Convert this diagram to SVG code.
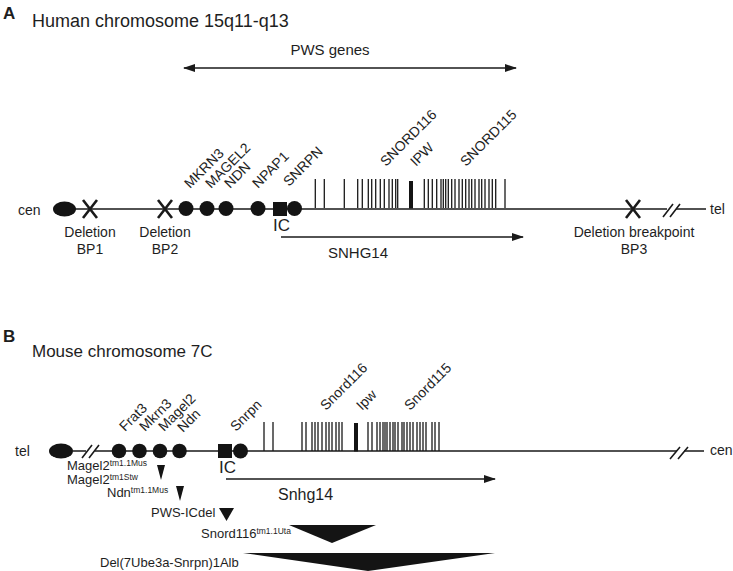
<svg xmlns="http://www.w3.org/2000/svg" width="733" height="571" viewBox="0 0 733 571">
<defs>
<marker id="ah" markerUnits="userSpaceOnUse" markerWidth="12" markerHeight="8" refX="11" refY="4" orient="auto-start-reverse"><path d="M0,0 L12,4 L0,8 z" fill="#1a1a1a"/></marker>
<style>
text{font-family:"Liberation Sans",Arial,sans-serif;fill:#1e1e1e}
.pl{font-size:17px;font-weight:bold}
.g{font-size:14px}
.lb{font-size:14px}
.sm{font-size:13px}
.sup{font-size:8.5px}
.chr{stroke:#1a1a1a;stroke-width:1.6;fill:none}
.tk{stroke:#1a1a1a;stroke-width:1.3;fill:none}
.x{stroke:#1a1a1a;stroke-width:2.6;fill:none}
.ar{stroke:#1a1a1a;stroke-width:1.6;fill:none}
.blk{fill:#141414}
</style>
</defs>

<!-- Panel A -->
<g id="panelA-title">
<text class="pl" x="3" y="19">A</text>
<text x="32" y="27" font-size="18">Human chromosome 15q11-q13</text>
<text x="330" y="55" font-size="15" text-anchor="middle">PWS genes</text>
</g>

<g id="chromA">
<path class="chr" d="M75,209 H667 M676,209 H706"/>
<path class="chr" d="M663,217 L673,204 M670,217 L680,204"/>
<ellipse class="blk" cx="64.5" cy="209" rx="11.5" ry="7.5"/>
<text class="lb" x="18" y="215">cen</text>
<text class="lb" x="710" y="214">tel</text>
</g>

<g id="bp1"><path class="x" d="M83,200 L97,218 M97,200 L83,218"/><text class="lb" x="90" y="237" text-anchor="middle">Deletion</text><text class="lb" x="90" y="254" text-anchor="middle">BP1</text></g>
<g id="bp2"><path class="x" d="M158,200 L172,218 M172,200 L158,218"/><text class="lb" x="165" y="237" text-anchor="middle">Deletion</text><text class="lb" x="165" y="254" text-anchor="middle">BP2</text></g>
<g id="bp3"><path class="x" d="M626,200 L640,218 M640,200 L626,218"/><text class="lb" x="634" y="237" text-anchor="middle">Deletion breakpoint</text><text class="lb" x="634" y="254" text-anchor="middle">BP3</text></g>

<g id="MKRN3"><circle class="blk" cx="186" cy="208.5" r="7.5"/><text class="g" font-size="15" transform="translate(190,189) rotate(-45)">MKRN3</text></g>
<g id="MAGEL2"><circle class="blk" cx="207" cy="208.5" r="7.5"/><text class="g" transform="translate(211,189) rotate(-45)">MAGEL2</text></g>
<g id="NDN"><circle class="blk" cx="226" cy="208.5" r="7.5"/><text class="g" transform="translate(230,189) rotate(-45)">NDN</text></g>
<g id="NPAP1"><circle class="blk" cx="258" cy="208.5" r="7.5"/><text class="g" transform="translate(258,189) rotate(-45)">NPAP1</text></g>
<g id="IC-A"><rect class="blk" x="273" y="202" width="14" height="14"/><text x="273" y="231" font-size="17">IC</text></g>
<g id="SNRPN"><circle class="blk" cx="294.5" cy="208.5" r="7.5"/><text class="g" transform="translate(289,187) rotate(-45)">SNRPN</text></g>

<g id="snordA">
<path class="tk" d="M315.3,179V208 M324.3,179V208 M344.3,179V208 M357.7,179V208 M362.3,179V208 M368.3,179V208 M371.7,179V208 M375.7,179V208 M380.3,179V208 M384.3,179V208 M389,179V208 M392.3,179V208 M395.7,179V208 M397.7,179V208 M424.3,179V208 M428.3,179V208 M432.3,179V208 M436.7,179V208 M441,179V208 M443.3,179V208 M445.7,179V208 M448.3,179V208 M451.7,179V208 M455,179V208 M459,179V208 M462.3,179V208 M465.7,179V208 M469,179V208 M471.7,179V208 M475,179V208 M479,179V208 M481.7,179V208 M485,179V208 M489,179V208 M492.3,179V208 M495.7,179V208 M505,179V208"/>
<rect class="blk" x="409" y="181" width="4" height="27.5"/>
<text class="g" transform="translate(386,167) rotate(-45)">SNORD116</text>
<text class="g" transform="translate(416,167) rotate(-45)">IPW</text>
<text class="g" transform="translate(466,167) rotate(-45)">SNORD115</text>
</g>

<g id="SNHG14-A"><text x="328" y="258" font-size="15">SNHG14</text></g>

<!-- Panel B -->
<g id="panelB-title">
<text class="pl" x="3" y="342">B</text>
<text x="32" y="357" font-size="17">Mouse chromosome 7C</text>
</g>

<g id="chromB">
<path class="chr" d="M73,451 H86 M95,451 H677 M684,451 H704"/>
<path class="chr" d="M82,458 L92,445 M89,458 L99,445 M670,459 L680,447 M678,459 L688,447"/>
<ellipse class="blk" cx="61" cy="451" rx="12" ry="7.5"/>
<text class="lb" x="15" y="456">tel</text>
<text class="lb" x="710" y="455">cen</text>
</g>

<g id="Frat3"><circle class="blk" cx="119" cy="451" r="7.3"/><text class="g" transform="translate(125,432) rotate(-45)">Frat3</text></g>
<g id="Mkrn3"><circle class="blk" cx="139.5" cy="451" r="7.3"/><text class="g" transform="translate(145,432) rotate(-45)">Mkrn3</text></g>
<g id="Magel2"><circle class="blk" cx="160" cy="451" r="7.3"/><text class="g" transform="translate(164,432) rotate(-45)">Magel2</text></g>
<g id="Ndn"><circle class="blk" cx="179.5" cy="451" r="7.3"/><text class="g" transform="translate(183,433) rotate(-45)">Ndn</text></g>
<g id="IC-B"><rect class="blk" x="218" y="444" width="14" height="14"/><text x="219" y="473" font-size="17">IC</text></g>
<g id="Snrpn"><circle class="blk" cx="240.5" cy="451" r="7.5"/><text class="g" transform="translate(236,432) rotate(-45)">Snrpn</text></g>

<g id="snordB">
<path class="tk" d="M264,422V451 M273,422V451 M302,422V451 M306,422V451 M312,422V451 M315,422V451 M318,422V451 M322,422V451 M326,422V451 M329,422V451 M332,422V451 M336,422V451 M339,422V451 M342,422V451 M368,422V451 M372,422V451 M377,422V451 M380,422V451 M383,422V451 M385,422V451 M387,422V451 M390,422V451 M393,422V451 M395,422V451 M398,422V451 M402,422V451 M404,422V451 M407,422V451 M410,422V451 M413,422V451 M417,422V451 M420,422V451 M423,422V451 M426,422V451 M432,422V451 M435,422V451 M439,422V451"/>
<rect class="blk" x="354" y="423" width="4" height="28.5"/>
<text class="g" transform="translate(326,411) rotate(-45)">Snord116</text>
<text class="g" transform="translate(362,411) rotate(-45)">Ipw</text>
<text class="g" transform="translate(410,411) rotate(-45)">Snord115</text>
</g>

<g id="Snhg14-B"><text x="278" y="500" font-size="16">Snhg14</text></g>

<g id="Magel2-alleles">
<text class="sm" x="67" y="470">Magel2<tspan class="sup" dy="-4">tm1.1Mus</tspan></text>
<text class="sm" x="67" y="484">Magel2<tspan class="sup" dy="-4">tm1Stw</tspan></text>
<polygon class="blk" points="157,465 165,465 161,480"/>
</g>
<g id="Ndn-allele">
<text class="sm" x="107" y="497">Ndn<tspan class="sup" dy="-4">tm1.1Mus</tspan></text>
<polygon class="blk" points="176,486 184,486 180,501"/>
</g>
<g id="PWS-ICdel">
<text class="sm" x="151" y="517">PWS-ICdel</text>
<polygon class="blk" points="219,508 234,508 226.5,521"/>
</g>
<g id="Snord116-allele">
<text class="sm" x="201" y="538">Snord116<tspan class="sup" dy="-4">tm1.1Uta</tspan></text>
<polygon class="blk" points="289,525 376,525 332,543"/>
</g>
<g id="Del-allele">
<text class="sm" x="100" y="567">Del(7Ube3a-Snrpn)1Alb</text>
<polygon class="blk" points="243,553 495,553 368,571"/>
</g>

<g id="connectors">
<line class="ar" x1="184" y1="68" x2="516" y2="68" marker-start="url(#ah)" marker-end="url(#ah)"/>
<line class="ar" x1="281" y1="237" x2="523" y2="237" marker-end="url(#ah)"/>
<line class="ar" x1="226" y1="479" x2="495" y2="479" marker-end="url(#ah)"/>
</g>
</svg>
